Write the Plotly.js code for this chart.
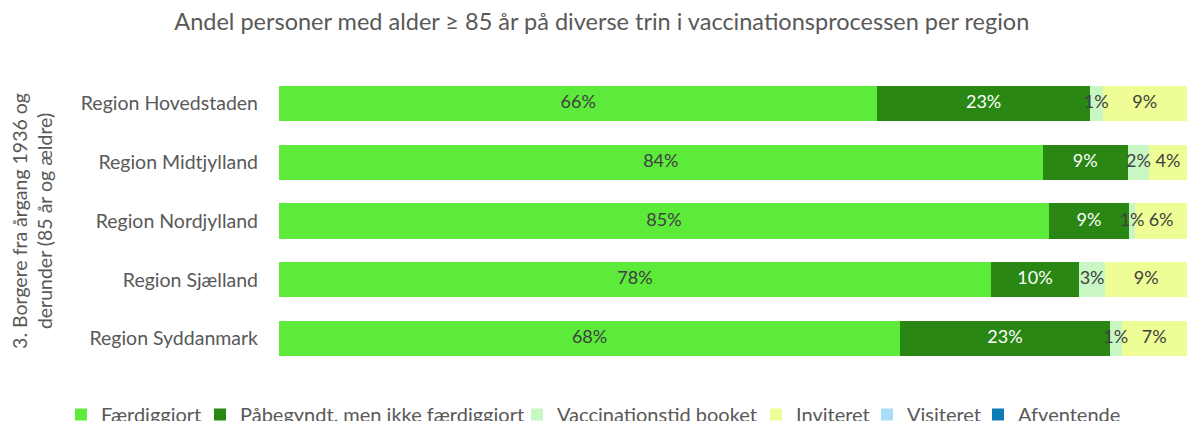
<!DOCTYPE html>
<html>
<head>
<meta charset="utf-8">
<script src="https://cdn.plot.ly/plotly-3.0.1.min.js"></script>
<style>html,body{margin:0;padding:0;background:#fff;}#chart{width:1187px;height:421px;}</style>
</head>
<body>
<div id="chart"></div>
<script>
const regions = ["Region Hovedstaden", "Region Midtjylland", "Region Nordjylland", "Region Sjælland", "Region Syddanmark"];
const faerdiggjort = [65.9, 84.1, 84.8, 78.4, 68.4];
const paabegyndt = [23.4, 9.4, 8.8, 9.7, 23.1];
const booket = [1.4, 2.3, 0.7, 2.9, 1.3];
const inviteret = [9.3, 4.2, 5.7, 9.0, 7.2];
const visiteret = [0, 0, 0, 0, 0];
const afventende = [0, 0, 0, 0, 0];

const seriesNames = ["Færdiggiort", "Påbegyndt, men ikke færdiggiort", "Vaccinationstid booket", "Inviteret", "Visiteret", "Afventende"];
const seriesValues = [faerdiggjort, paabegyndt, booket, inviteret, visiteret, afventende];
const colors = ["#5CEB3B", "#2A8713", "#C9F7C3", "#EEFD95", "#A8DDF9", "#0B7AB6"];
const textColors = ["#404040", "#FFFFFF", "#404040", "#404040", "#404040", "#FFFFFF"];

const FONT = "Lato, 'Open Sans', sans-serif";

// legend entry placement (left edge of each entry, in pixels of the figure)
const legendLeft = [61, 200, 517, 756, 867, 978];

const legendId = i => (i === 0 ? "legend" : "legend" + (i + 1));

const barTraces = seriesValues.map((vals, i) => ({
  type: "bar",
  orientation: "h",
  name: seriesNames[i],
  legend: legendId(i),
  y: regions,
  x: vals,
  marker: {color: colors[i], line: {width: 0}},
  hoverinfo: "x+y+name"
}));

// data labels drawn on top of all bars (midpoint of each stacked segment)
const labelTraces = seriesValues.map((vals, i) => {
  const mids = vals.map((v, j) => {
    let start = 0;
    for (let k = 0; k < i; k++) start += seriesValues[k][j];
    return start + v / 2;
  });
  return {
    type: "scatter",
    mode: "text",
    x: mids,
    y: regions,
    text: vals.map(v => v > 0 ? Math.round(v) + "%" : ""),
    textposition: "middle center",
    textfont: {family: FONT, size: 18, color: textColors[i]},
    cliponaxis: false,
    showlegend: false,
    hoverinfo: "skip"
  };
});

const layout = {
  width: 1187,
  height: 421,
  barmode: "stack",
  bargap: 0.4,
  paper_bgcolor: "#ffffff",
  plot_bgcolor: "#ffffff",
  margin: {l: 279, r: 0, t: 74, b: 53},
  font: {family: FONT, color: "#595959", size: 16},
  title: {
    text: "Andel personer med alder ≥ 85 år på diverse trin i vaccinationsprocessen per region",
    font: {family: FONT, size: 23.5, color: "#595959"},
    x: 0.507, xanchor: "center", xref: "container",
    y: 0.948, yanchor: "middle", yref: "container"
  },
  xaxis: {
    range: [0, 100],
    showticklabels: false,
    showgrid: false,
    zeroline: false,
    showline: false,
    fixedrange: true
  },
  yaxis: {
    autorange: "reversed",
    showgrid: false,
    zeroline: false,
    showline: false,
    ticks: "",
    ticklabelstandoff: 20,
    tickfont: {family: FONT, size: 19.5, color: "#595959"},
    title: {
      text: "3. Borgere fra årgang 1936 og<br>derunder (85 år og ældre)",
      font: {family: FONT, size: 19.5, color: "#595959"},
      standoff: 22
    },
    automargin: false
  },
  showlegend: true
};

legendLeft.forEach((px, i) => {
  layout[legendId(i)] = {
    orientation: "h",
    x: px / 1187, xanchor: "left", xref: "container",
    y: 1 - 395 / 421, yanchor: "top", yref: "container",
    font: {family: FONT, size: 20, color: "#595959"},
    itemwidth: 30,
    bgcolor: "rgba(0,0,0,0)"
  };
});

Plotly.newPlot("chart", barTraces.concat(labelTraces), layout, {displayModeBar: false, staticPlot: true});
</script>
</body>
</html>
